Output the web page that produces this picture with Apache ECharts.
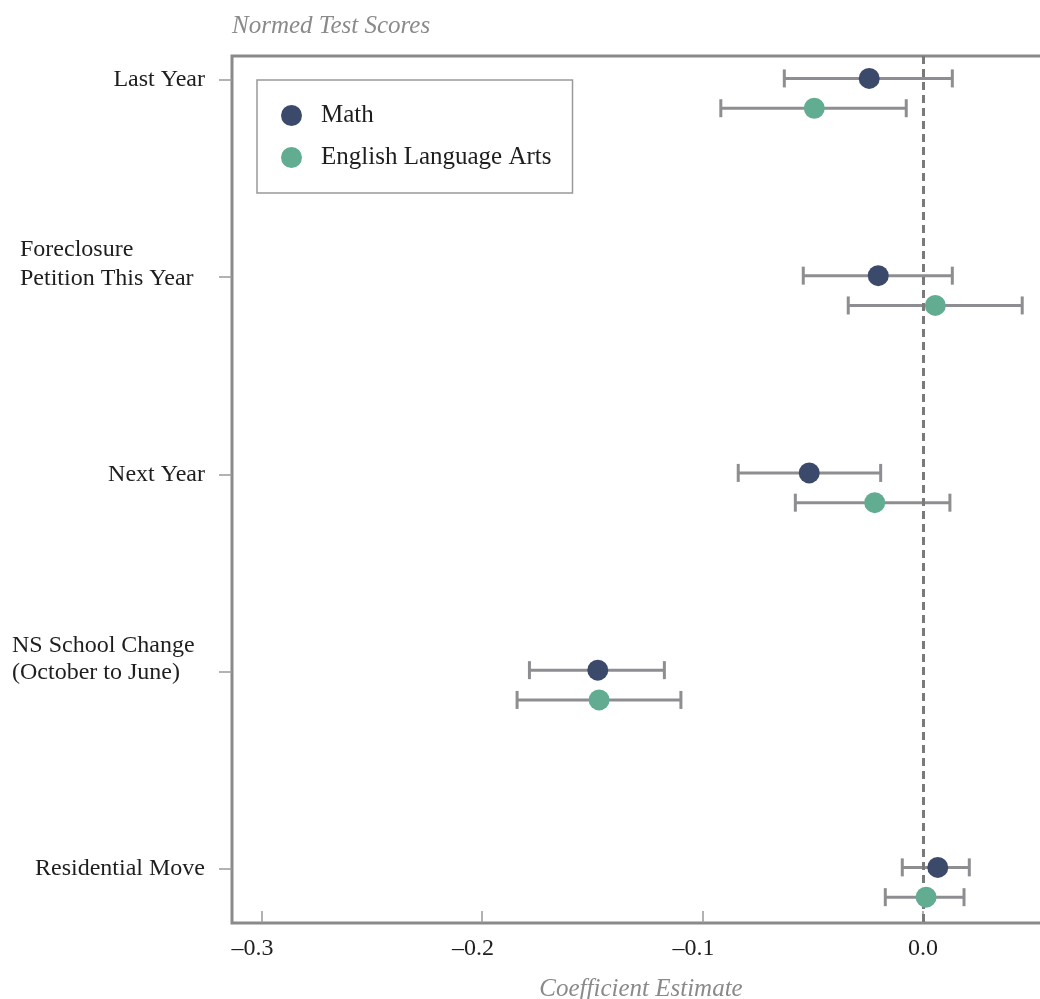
<!DOCTYPE html>
<html>
<head>
<meta charset="utf-8">
<script src="https://cdn.jsdelivr.net/npm/echarts@6/dist/echarts.min.js"></script>
<style>
  html, body { margin: 0; padding: 0; background: #ffffff; }
  #chart { width: 1040px; height: 999px; }
</style>
</head>
<body>
<div id="chart"></div>
<script>
// ---- data ----
const categories = ['Last Year', 'Foreclosure\nPetition This Year', 'Next Year', 'NS School Change\n(October to June)', 'Residential Move'];
const seriesNames = ['Math', 'English Language Arts'];
const mathEst = [-0.0244, -0.0203, -0.0516, -0.1475, 0.0067];
const mathLo  = [-0.0629, -0.0543, -0.0838, -0.1785, -0.0094];
const mathHi  = [ 0.0133,  0.0133, -0.0192, -0.1173, 0.0210];
const elaEst  = [-0.0493,  0.0056, -0.0219, -0.1469, 0.0014];
const elaLo   = [-0.0917, -0.0339, -0.0579, -0.1841, -0.0171];
const elaHi   = [-0.0076,  0.0450,  0.0122, -0.1098, 0.0186];
const xTicks  = [-0.3, -0.2, -0.1, 0.0];
const catTicks = [0, 1, 2, 3, 4];

// ---- layout / style ----
const FONT = 'Liberation Serif';
const MATH_COLOR = '#3b4a6a';
const ELA_COLOR = '#62ad91';
const BAR_COLOR = '#8e8e92';
const FRAME_COLOR = '#8a8a8a';
const mathDodge = -0.008;
const elaDodge = 0.143;

const mathPts = mathEst.map((v, i) => [v, i + mathDodge]);
const elaPts = elaEst.map((v, i) => [v, i + elaDodge]);
const barData = [];
mathEst.forEach((v, i) => barData.push([mathLo[i], mathHi[i], i + mathDodge]));
elaEst.forEach((v, i) => barData.push([elaLo[i], elaHi[i], i + elaDodge]));

function yLabel(v) {
  const i = Math.round(v);
  const cat = categories[i];
  if (cat === undefined) return '';
  const lines = cat.split('\n');
  if (lines.length === 1) return '{s|' + cat + '}';
  const st = i === 1 ? 'f' : 'n';
  return lines.map(l => '{' + st + '|' + l + '}').join('\n') + '\n{e| }';
}

function xLabel(v) {
  if (Math.abs(v) < 1e-9) return '{p|0.0}';
  return '{m|\u2013' + Math.abs(v).toFixed(1) + '}';
}

const chart = echarts.init(document.getElementById('chart'), null, { renderer: 'canvas' });
chart.setOption({
  animation: false,
  backgroundColor: '#ffffff',
  title: {
    text: 'Normed Test Scores',
    left: 232, top: 14, padding: 0,
    textStyle: { fontFamily: FONT, fontStyle: 'italic', fontWeight: 'normal', fontSize: 25, color: '#8a8a8a' }
  },
  legend: {
    data: seriesNames,
    orient: 'vertical',
    left: 257, top: 80,
    padding: [23, 21, 23, 24],
    itemWidth: 49, itemHeight: 21, itemGap: 17,
    icon: 'circle',
    borderColor: '#999999', borderWidth: 1.5,
    selectedMode: false,
    textStyle: { fontFamily: FONT, fontSize: 25, color: '#1e1e1e' }
  },
  grid: {
    left: 232, top: 56, right: -10, bottom: 76,
    show: true, borderColor: FRAME_COLOR, borderWidth: 3,
    outerBoundsMode: 'none'
  },
  xAxis: {
    type: 'value',
    min: -0.3134, max: 0.0576,
    position: 'bottom',
    name: 'Coefficient Estimate',
    nameLocation: 'middle',
    nameGap: 54,
    nameTextStyle: { fontFamily: FONT, fontStyle: 'italic', fontSize: 25, color: '#8a8a8a' },
    axisLine: { show: false, onZero: false },
    splitLine: { show: false },
    axisTick: { show: true, inside: true, length: 12, customValues: xTicks, lineStyle: { color: '#999999', width: 1.5 } },
    axisLabel: {
      customValues: xTicks, margin: 14,
      formatter: xLabel,
      fontFamily: FONT, fontSize: 24, color: '#1e1e1e',
      rich: {
        m: { fontFamily: FONT, fontSize: 24, color: '#1e1e1e', padding: [0, 18, 0, 0] },
        p: { fontFamily: FONT, fontSize: 24, color: '#1e1e1e' }
      }
    }
  },
  yAxis: {
    type: 'value',
    inverse: true,
    position: 'left',
    min: -0.1217, max: 4.274,
    axisLine: { show: false, onZero: false },
    splitLine: { show: false },
    axisTick: { show: true, inside: false, length: 13, customValues: catTicks, lineStyle: { color: '#999999', width: 1.5 } },
    axisLabel: {
      customValues: catTicks, margin: 27,
      formatter: yLabel,
      fontFamily: FONT, fontSize: 24, color: '#1e1e1e',
      rich: {
        s: { fontFamily: FONT, fontSize: 24, color: '#1e1e1e', lineHeight: 28 },
        f: { fontFamily: FONT, fontSize: 24, color: '#1e1e1e', lineHeight: 29, width: 185, align: 'left' },
        n: { fontFamily: FONT, fontSize: 24, color: '#1e1e1e', lineHeight: 27, width: 193, align: 'left' },
        e: { fontFamily: FONT, fontSize: 24, lineHeight: 26 }
      }
    }
  },
  series: [
    {
      type: 'custom',
      name: 'ci',
      z: 2,
      silent: true,
      encode: { x: [0, 1], y: 2 },
      data: barData,
      renderItem: function (params, api) {
        const y = api.value(2);
        const a = api.coord([api.value(0), y]);
        const b = api.coord([api.value(1), y]);
        const h = 9;
        const st = { stroke: BAR_COLOR, lineWidth: 3, fill: null };
        return {
          type: 'group',
          children: [
            { type: 'line', shape: { x1: a[0], y1: a[1], x2: b[0], y2: b[1] }, style: st },
            { type: 'line', shape: { x1: a[0], y1: a[1] - h, x2: a[0], y2: a[1] + h }, style: st },
            { type: 'line', shape: { x1: b[0], y1: b[1] - h, x2: b[0], y2: b[1] + h }, style: st }
          ]
        };
      },
      markLine: {
        silent: true,
        symbol: ['none', 'none'],
        label: { show: false },
        lineStyle: { color: '#7a7a7a', width: 3, type: [8, 5] },
        data: [{ xAxis: 0 }]
      }
    },
    {
      type: 'scatter',
      name: seriesNames[0],
      z: 5,
      symbol: 'circle',
      symbolSize: 21,
      itemStyle: { color: MATH_COLOR, opacity: 1 },
      data: mathPts
    },
    {
      type: 'scatter',
      name: seriesNames[1],
      z: 5,
      symbol: 'circle',
      symbolSize: 21,
      itemStyle: { color: ELA_COLOR, opacity: 1 },
      data: elaPts
    }
  ]
});
</script>
</body>
</html>
